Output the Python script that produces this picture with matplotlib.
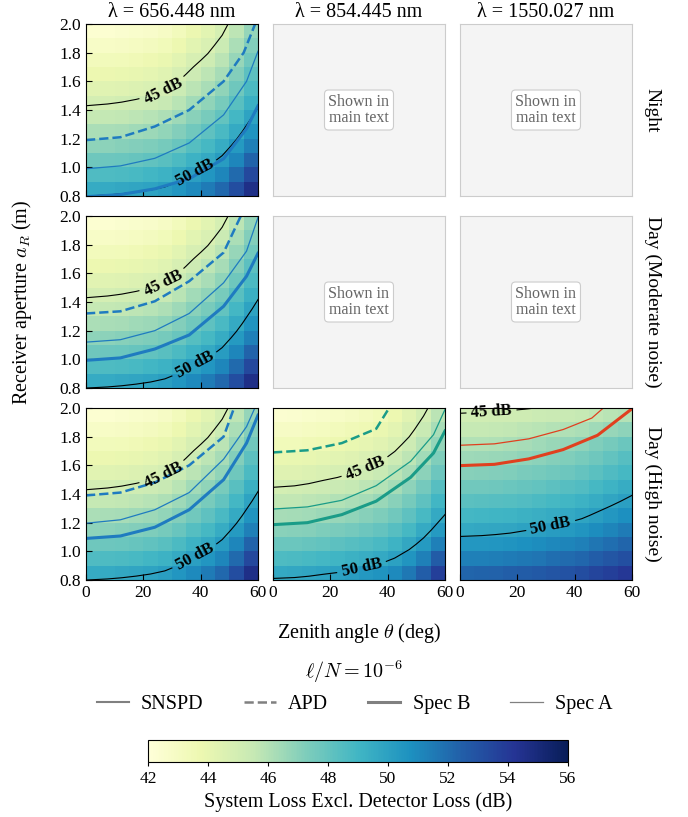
import matplotlib.pyplot as plt
import numpy as np
from matplotlib.lines import Line2D

plt.rcParams["font.family"] = "serif"
plt.rcParams["font.serif"] = ["Liberation Serif", "DejaVu Serif"]
plt.rcParams["mathtext.fontset"] = "cm"

wavelengths = ["656.448", "854.445", "1550.027"]
conditions = ["Night", "Day (Moderate noise)", "Day (High noise)"]

# cell centres of the loss grid
theta_centers = [2.5, 7.5, 12.5, 17.5, 22.5, 27.5, 32.5, 37.5, 42.5, 47.5, 52.5, 57.5]
aperture_centers = [0.85, 0.95, 1.05, 1.15, 1.25, 1.35, 1.45, 1.55, 1.65, 1.75, 1.85, 1.95]

# system loss (dB), rows follow aperture_centers, columns follow theta_centers
loss_656 = [
    [49.54, 49.59, 49.67, 49.78, 49.92, 50.13, 50.52, 51.02, 51.48, 52.15, 53.20, 54.60],
    [48.58, 48.63, 48.71, 48.82, 48.96, 49.17, 49.56, 50.06, 50.52, 51.12, 52.10, 53.40],
    [47.71, 47.76, 47.84, 47.95, 48.09, 48.30, 48.69, 49.19, 49.65, 50.25, 51.12, 52.30],
    [46.92, 46.97, 47.05, 47.16, 47.30, 47.51, 47.90, 48.40, 48.86, 49.46, 50.33, 51.32],
    [46.19, 46.24, 46.32, 46.43, 46.57, 46.78, 47.17, 47.67, 48.13, 48.73, 49.60, 50.59],
    [45.52, 45.57, 45.65, 45.76, 45.90, 46.11, 46.50, 47.00, 47.46, 48.06, 48.93, 49.92],
    [44.90, 44.95, 45.03, 45.14, 45.28, 45.49, 45.88, 46.38, 46.84, 47.44, 48.31, 49.30],
    [44.32, 44.37, 44.45, 44.56, 44.70, 44.91, 45.30, 45.80, 46.26, 46.86, 47.73, 48.72],
    [43.78, 43.83, 43.91, 44.02, 44.16, 44.37, 44.76, 45.26, 45.72, 46.32, 47.19, 48.18],
    [43.27, 43.32, 43.40, 43.51, 43.65, 43.86, 44.25, 44.75, 45.21, 45.81, 46.68, 47.67],
    [42.79, 42.84, 42.92, 43.03, 43.17, 43.38, 43.77, 44.27, 44.73, 45.33, 46.20, 47.19],
    [42.33, 42.38, 42.46, 42.57, 42.71, 42.92, 43.31, 43.81, 44.27, 44.87, 45.74, 46.73],
]
loss_854 = [
    [49.64, 49.68, 49.77, 49.90, 50.02, 50.19, 50.39, 50.62, 51.00, 51.60, 52.50, 53.80],
    [48.67, 48.71, 48.80, 48.93, 49.05, 49.22, 49.42, 49.65, 50.03, 50.54, 51.35, 52.60],
    [47.80, 47.84, 47.93, 48.06, 48.18, 48.35, 48.55, 48.78, 49.16, 49.67, 50.34, 51.30],
    [47.01, 47.05, 47.14, 47.27, 47.39, 47.56, 47.76, 47.99, 48.37, 48.88, 49.55, 50.36],
    [46.29, 46.33, 46.42, 46.55, 46.67, 46.84, 47.04, 47.27, 47.65, 48.16, 48.83, 49.64],
    [45.62, 45.66, 45.75, 45.88, 46.00, 46.17, 46.37, 46.60, 46.98, 47.49, 48.16, 48.97],
    [45.00, 45.04, 45.13, 45.26, 45.38, 45.55, 45.75, 45.98, 46.36, 46.87, 47.54, 48.35],
    [44.42, 44.46, 44.55, 44.68, 44.80, 44.97, 45.17, 45.40, 45.78, 46.29, 46.96, 47.77],
    [43.88, 43.92, 44.01, 44.14, 44.26, 44.43, 44.63, 44.86, 45.24, 45.75, 46.42, 47.23],
    [43.37, 43.41, 43.50, 43.63, 43.75, 43.92, 44.12, 44.35, 44.73, 45.24, 45.91, 46.72],
    [42.88, 42.92, 43.01, 43.14, 43.26, 43.43, 43.63, 43.86, 44.24, 44.75, 45.42, 46.23],
    [42.43, 42.47, 42.56, 42.69, 42.81, 42.98, 43.18, 43.41, 43.79, 44.30, 44.97, 45.78],
]
loss_1550 = [
    [52.28, 52.31, 52.37, 52.45, 52.58, 52.70, 52.87, 52.99, 53.19, 53.49, 53.79, 54.11],
    [51.31, 51.34, 51.40, 51.48, 51.61, 51.73, 51.90, 52.02, 52.22, 52.52, 52.82, 53.14],
    [50.44, 50.47, 50.53, 50.61, 50.74, 50.86, 51.03, 51.15, 51.35, 51.65, 51.95, 52.27],
    [49.65, 49.68, 49.74, 49.82, 49.95, 50.07, 50.24, 50.36, 50.56, 50.86, 51.16, 51.48],
    [48.93, 48.96, 49.02, 49.10, 49.23, 49.35, 49.52, 49.64, 49.84, 50.14, 50.44, 50.76],
    [48.26, 48.29, 48.35, 48.43, 48.56, 48.68, 48.85, 48.97, 49.17, 49.47, 49.77, 50.09],
    [47.64, 47.67, 47.73, 47.81, 47.94, 48.06, 48.23, 48.35, 48.55, 48.85, 49.15, 49.47],
    [47.06, 47.09, 47.15, 47.23, 47.36, 47.48, 47.65, 47.77, 47.97, 48.27, 48.57, 48.89],
    [46.52, 46.55, 46.61, 46.69, 46.82, 46.94, 47.11, 47.23, 47.43, 47.73, 48.03, 48.35],
    [46.01, 46.04, 46.10, 46.18, 46.31, 46.43, 46.60, 46.72, 46.92, 47.22, 47.52, 47.84],
    [45.52, 45.54, 45.59, 45.65, 45.75, 45.84, 45.96, 46.05, 46.20, 46.43, 46.65, 46.89],
    [45.07, 45.09, 45.12, 45.16, 45.22, 45.29, 45.37, 45.43, 45.53, 45.68, 45.83, 45.99],
]

# detector threshold curves: (zenith angle, required aperture)
apd_656_night = ([0, 12, 24, 36, 48, 55, 59], [1.19, 1.21, 1.285, 1.40, 1.60, 1.80, 2.0])
spec_a_656_night = ([0, 12, 24, 36, 48, 56, 60], [0.99, 1.01, 1.063, 1.17, 1.366, 1.60, 1.81])
spec_b_656_night = ([0, 12, 24, 36, 48, 56, 60], [0.795, 0.81, 0.85, 0.92, 1.06, 1.27, 1.43])
apd_656_moderate = ([0, 12, 24, 36, 48, 54], [1.32, 1.335, 1.405, 1.545, 1.745, 2.0])
spec_a_656_moderate = ([0, 12, 24, 36, 48, 56, 60], [1.12, 1.137, 1.20, 1.32, 1.534, 1.755, 1.99])
spec_b_656_moderate = ([0, 12, 24, 36, 48, 56, 60], [0.993, 1.01, 1.072, 1.17, 1.37, 1.58, 1.74])
apd_656_high = ([0, 12, 24, 36, 48, 52], [1.39, 1.41, 1.48, 1.60, 1.80, 2.02])
spec_a_656_high = ([0, 12, 24, 36, 48, 56, 60], [1.196, 1.22, 1.29, 1.41, 1.643, 1.87, 2.05])
spec_b_656_high = ([0, 12, 24, 36, 48, 56, 60], [1.09, 1.107, 1.168, 1.29, 1.50, 1.755, 1.95])
apd_854_high = ([0, 12, 24, 36, 40.5], [1.69, 1.705, 1.755, 1.855, 2.0])
spec_a_854_high = ([0, 12, 24, 36, 48, 56, 60], [1.295, 1.31, 1.356, 1.458, 1.628, 1.814, 1.99])
spec_b_854_high = ([0, 12, 24, 36, 48, 56, 60], [1.186, 1.2, 1.256, 1.35, 1.516, 1.686, 1.84])
spec_a_1550_high = ([0, 12, 24, 36, 46, 50], [1.74, 1.75, 1.785, 1.85, 1.93, 2.0])
spec_b_1550_high = ([0, 12, 24, 36, 48, 60], [1.598, 1.607, 1.645, 1.71, 1.81, 1.995])

loss_tables = [loss_656, loss_854, loss_1550]
line_colors = ["#1f7bc0", "#1a9c88", "#e0401f"]
label_positions = [
    [(27, 1.53), (38, 0.96)],
    [(32, 1.59), (31, 0.88)],
    [(11, 1.97), (32, 1.15)],
]
panel_curves = {
    (0, 0): [("apd", apd_656_night), ("spec_a", spec_a_656_night), ("spec_b", spec_b_656_night)],
    (1, 0): [("apd", apd_656_moderate), ("spec_a", spec_a_656_moderate), ("spec_b", spec_b_656_moderate)],
    (2, 0): [("apd", apd_656_high), ("spec_a", spec_a_656_high), ("spec_b", spec_b_656_high)],
    (2, 1): [("apd", apd_854_high), ("spec_a", spec_a_854_high), ("spec_b", spec_b_854_high)],
    (2, 2): [("spec_a", spec_a_1550_high), ("spec_b", spec_b_1550_high)],
}
line_styles = {
    "snspd": dict(ls="-", lw=1.5),
    "apd": dict(ls="--", lw=1.8),
    "spec_b": dict(ls="-", lw=2.2),
    "spec_a": dict(ls="-", lw=0.9),
}


def extend(values):
    """Linearly extend a 1D/2D grid by one cell on every side so contours reach the frame."""
    arr = np.asarray(values, dtype=float)
    return np.pad(arr, 1, mode="reflect", reflect_type="odd")


fig = plt.figure(figsize=(6.88, 8.17), dpi=100)
col_left = [0.125, 0.3968, 0.6686]
row_bottom = [0.7601, 0.5251, 0.2901]
width, height = 0.25, 0.2105

theta_c = np.array(theta_centers)
aperture_c = np.array(aperture_centers)
mesh = None
for r in range(3):
    for c in range(3):
        ax = fig.add_axes([col_left[c], row_bottom[r], width, height])
        if r == 0:
            ax.set_title(f"λ = {wavelengths[c]} nm", fontsize=14.5, pad=5)
        if c == 2:
            fig.text(0.948, row_bottom[r] + height / 2, conditions[r], rotation=270,
                     ha="center", va="center", fontsize=14)

        if r < 2 and c > 0:
            ax.set_facecolor("#f4f4f4")
            for spine in ax.spines.values():
                spine.set_color("#cccccc")
            ax.set_xticks([])
            ax.set_yticks([])
            ax.text(0.5, 0.5, "Shown in\nmain text", transform=ax.transAxes, ha="center",
                    va="center", fontsize=11.5, color="#666666", linespacing=1.0,
                    bbox=dict(boxstyle="round,pad=0.25", fc="white", ec="#cccccc", lw=0.8))
            continue

        loss = np.array(loss_tables[c])
        mesh = ax.pcolormesh(theta_c, aperture_c, loss, shading="nearest",
                             cmap="YlGnBu", vmin=42, vmax=56)
        cs = ax.contour(extend(theta_c), extend(aperture_c), extend(loss),
                        levels=[45, 50], colors="black", linewidths=0.8)
        labels = ax.clabel(cs, fmt={45: "45 dB", 50: "50 dB"}, manual=label_positions[c],
                           inline=True, fontsize=12, inline_spacing=3)
        for t in labels:
            t.set_fontweight("bold")
            t.set_clip_on(False)

        for kind, (theta, aperture) in panel_curves[(r, c)]:
            ax.plot(theta, aperture, color=line_colors[c], **line_styles[kind])

        ax.set_xlim(0, 60)
        ax.set_ylim(0.8, 2.0)
        ax.set_xticks([0, 20, 40, 60])
        ax.tick_params(direction="in", length=4, labelsize=12.5)
        if c == 0:
            ax.set_yticks([0.8, 1.0, 1.2, 1.4, 1.6, 1.8, 2.0])
            ax.set_yticklabels(["0.8", "1.0", "1.2", "1.4", "1.6", "1.8", "2.0"])
        else:
            ax.set_yticks([])
        if r < 2:
            ax.tick_params(labelbottom=False)

fig.text(0.032, 0.5 * (row_bottom[2] + row_bottom[0] + height), r"Receiver aperture $a_R$ (m)",
         rotation=90, ha="center", va="center", fontsize=14.5)
fig.text(0.522, 1 - 633 / 817, r"Zenith angle $\theta$ (deg)", ha="center", va="center",
         fontsize=14.5)

handles = [Line2D([], [], color="gray", **line_styles[k]) for k in ["snspd", "apd", "spec_b", "spec_a"]]
fig.legend(handles, ["SNSPD", "APD", "Spec B", "Spec A"], loc="upper center",
           bbox_to_anchor=(0.515, 1 - 650 / 817), ncol=4, frameon=False, fontsize=14.5,
           title=r"$\ell/N = 10^{-6}$", title_fontsize=14.5, handlelength=1.6,
           handletextpad=0.6, columnspacing=2.0, borderaxespad=0)

cax = fig.add_axes([0.2151, 1 - 762 / 817, 0.6105, 22 / 817])
cbar = fig.colorbar(mesh, cax=cax, orientation="horizontal", ticks=np.arange(42, 57, 2))
cbar.ax.tick_params(labelsize=12.5, length=3)
cbar.set_label("System Loss Excl. Detector Loss (dB)", fontsize=14.5)

fig.savefig("out.png", dpi=100)
